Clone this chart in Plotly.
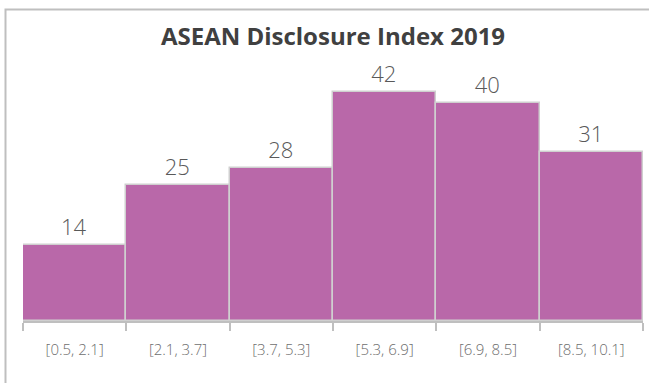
import plotly.graph_objects as go

categories = ["[0.5, 2.1]", "[2.1, 3.7]", "[3.7, 5.3]", "[5.3, 6.9]", "[6.9, 8.5]", "[8.5, 10.1]"]
counts = [14, 25, 28, 42, 40, 31]
title_text = "ASEAN Disclosure Index 2019"

W, H = 649, 383
ml, mr, mt, mb = 23, 6, 40, 62
pw = W - ml - mr
ph = H - mt - mb
units_per_px = 1 / 5.45
ymax = ph * units_per_px

fig = go.Figure(go.Bar(
    x=categories, y=counts,
    marker=dict(color="#B968A9", line=dict(color="#CFCFCF", width=1.5)),
    text=[str(c) for c in counts], textposition="outside",
    textfont=dict(family="Open Sans", size=22, color="#595959", weight=300),
    cliponaxis=False,
))

def px_to_paper_x(px):
    return (px - ml) / pw

def px_to_paper_y(py):
    return (H - mb - py) / ph

fig.update_layout(
    width=W, height=H,
    margin=dict(l=ml, r=mr, t=mt, b=mb),
    paper_bgcolor="white", plot_bgcolor="white",
    bargap=0,
    showlegend=False,
    title=dict(text="<b>" + title_text + "</b>", x=0.5, xref="paper", xanchor="center",
               y=1 - 37 / H, yanchor="middle",
               font=dict(family="Open Sans", size=24, color="#404040")),
    xaxis=dict(type="category", showline=True, linecolor="#BFBFBF", linewidth=1.5,
               ticks="outside", tickson="boundaries", ticklen=8, tickcolor="#BFBFBF", tickwidth=1.5,
               ticklabelstandoff=14,
               tickfont=dict(family="Open Sans", size=15, color="#6E6E6E", weight=300), showgrid=False),
    yaxis=dict(visible=False, range=[0, ymax]),
    shapes=[dict(type="rect", xref="paper", yref="paper",
                 x0=px_to_paper_x(5.5), x1=px_to_paper_x(700),
                 y0=px_to_paper_y(450), y1=px_to_paper_y(9.5),
                 line=dict(color="#BFBFBF", width=2), fillcolor="rgba(0,0,0,0)", layer="below")],
)

fig.write_html("out.html")
